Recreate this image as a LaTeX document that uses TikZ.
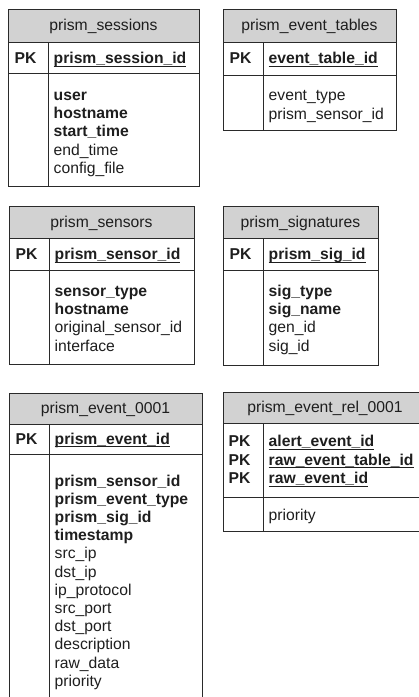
\documentclass[tikz,border=0pt]{standalone}
\usepackage{fontspec}
\setmainfont{Liberation Sans}
\definecolor{hdrgray}{HTML}{D2D2D2}
\definecolor{linec}{HTML}{2A2A2A}
\definecolor{textc}{HTML}{1E1E1E}
\newlength\keyw
% underlined primary-key column name
\newcommand\keyname[1]{\settowidth\keyw{\bfseries #1}\rlap{\rule[-3.4pt]{\keyw}{1.2pt}}{\bfseries #1}}
\tikzset{
  frame/.style={draw=linec, line width=1pt},
  headfill/.style={frame, fill=hdrgray},
  title/.style={inner sep=0pt, anchor=base, text=textc, font=\fontsize{15.7}{18.3}\selectfont},
  field/.style={inner sep=0pt, anchor=base west, text=textc, font=\fontsize{15.7}{18.3}\selectfont},
  keyfield/.style={field, font=\fontsize{15.7}{18.3}\selectfont\bfseries},
}
% \erbox{x-left}{x-right}{x-divider}{y-top}{y-head}{y-key}{y-bottom}
\newcommand\erbox[7]{%
  \draw[headfill] (#1,#4) rectangle (#2,#5);
  \draw[frame] (#1,#5) rectangle (#2,#7);
  \draw[frame] (#1,#6) -- (#2,#6);
  \draw[frame] (#3,#5) -- (#3,#7);
}
\begin{document}
\begin{tikzpicture}[x=1pt, y=-1pt]
\useasboundingbox (0,0) rectangle (419,697);
\clip (0,0) rectangle (419,697);

% prism_sessions
\erbox{8}{199}{48}{9}{42}{73}{186}
\node[title] (t1) at (103.5,30) {prism\_sessions};
\node[keyfield] (t1pk) at (14.5,63.3) {PK};
\node[field] (t1k) at (53.5,63.3) {\keyname{prism\_session\_id}};
\node[keyfield] (t1a) at (53.5,100) {user};
\node[keyfield] (t1b) at (53.5,118.4) {hostname};
\node[keyfield] (t1c) at (53.5,136.8) {start\_time};
\node[field] (t1d) at (53.5,155.2) {end\_time};
\node[field] (t1e) at (53.5,173.6) {config\_file};

% prism_event_tables
\erbox{223}{396}{263}{9}{42}{75}{130}
\node[title] (t2) at (309.5,30) {prism\_event\_tables};
\node[keyfield] (t2pk) at (229.5,63.3) {PK};
\node[field] (t2k) at (268.5,63.3) {\keyname{event\_table\_id}};
\node[field] (t2a) at (268.5,100.5) {event\_type};
\node[field] (t2b) at (268.5,119) {prism\_sensor\_id};

% prism_sensors
\erbox{9}{194}{49}{206}{238}{270}{364}
\node[title] (t3) at (101.5,227.3) {prism\_sensors};
\node[keyfield] (t3pk) at (15.5,259.3) {PK};
\node[field] (t3k) at (54.5,259.3) {\keyname{prism\_sensor\_id}};
\node[keyfield] (t3a) at (54.5,296) {sensor\_type};
\node[keyfield] (t3b) at (54.5,314.4) {hostname};
\node[field] (t3c) at (54.5,332.8) {original\_sensor\_id};
\node[field] (t3d) at (54.5,351.2) {interface};

% prism_signatures
\erbox{223}{378}{263}{206}{238}{270}{365}
\node[title] (t4) at (300.5,227.3) {prism\_signatures};
\node[keyfield] (t4pk) at (229.5,259.3) {PK};
\node[field] (t4k) at (268.5,259.3) {\keyname{prism\_sig\_id}};
\node[keyfield] (t4a) at (268.5,296) {sig\_type};
\node[keyfield] (t4b) at (268.5,314.4) {sig\_name};
\node[field] (t4c) at (268.5,332.8) {gen\_id};
\node[field] (t4d) at (268.5,351.2) {sig\_id};

% prism_event_0001
\erbox{9}{202}{49}{393}{424}{454}{712}
\node[title] (t5) at (105.5,413) {prism\_event\_0001};
\node[keyfield] (t5pk) at (15.5,444) {PK};
\node[field] (t5k) at (54.5,444) {\keyname{prism\_event\_id}};
\node[keyfield] (t5a) at (54.5,486) {prism\_sensor\_id};
\node[keyfield] (t5b) at (54.5,504.2) {prism\_event\_type};
\node[keyfield] (t5c) at (54.5,522.4) {prism\_sig\_id};
\node[keyfield] (t5d) at (54.5,540.6) {timestamp};
\node[field] (t5e) at (54.5,558.8) {src\_ip};
\node[field] (t5f) at (54.5,577) {dst\_ip};
\node[field] (t5g) at (54.5,595.2) {ip\_protocol};
\node[field] (t5h) at (54.5,613.4) {src\_port};
\node[field] (t5i) at (54.5,631.6) {dst\_port};
\node[field] (t5j) at (54.5,649.8) {description};
\node[field] (t5k2) at (54.5,668) {raw\_data};
\node[field] (t5l) at (54.5,686.2) {priority};

% prism_event_rel_0001
\erbox{223}{427}{263}{392}{423}{497.3}{531}
\node[title] (t6) at (325,412.3) {prism\_event\_rel\_0001};
\node[keyfield] (t6pk1) at (228.5,446.7) {PK};
\node[keyfield] (t6pk2) at (228.5,465) {PK};
\node[keyfield] (t6pk3) at (228.5,483.3) {PK};
\node[field] (t6k1) at (268.5,446.7) {\keyname{alert\_event\_id}};
\node[field] (t6k2) at (268.5,465) {\keyname{raw\_event\_table\_id}};
\node[field] (t6k3) at (268.5,483.3) {\keyname{raw\_event\_id}};
\node[field] (t6a) at (268.5,520) {priority};
\end{tikzpicture}
\end{document}
